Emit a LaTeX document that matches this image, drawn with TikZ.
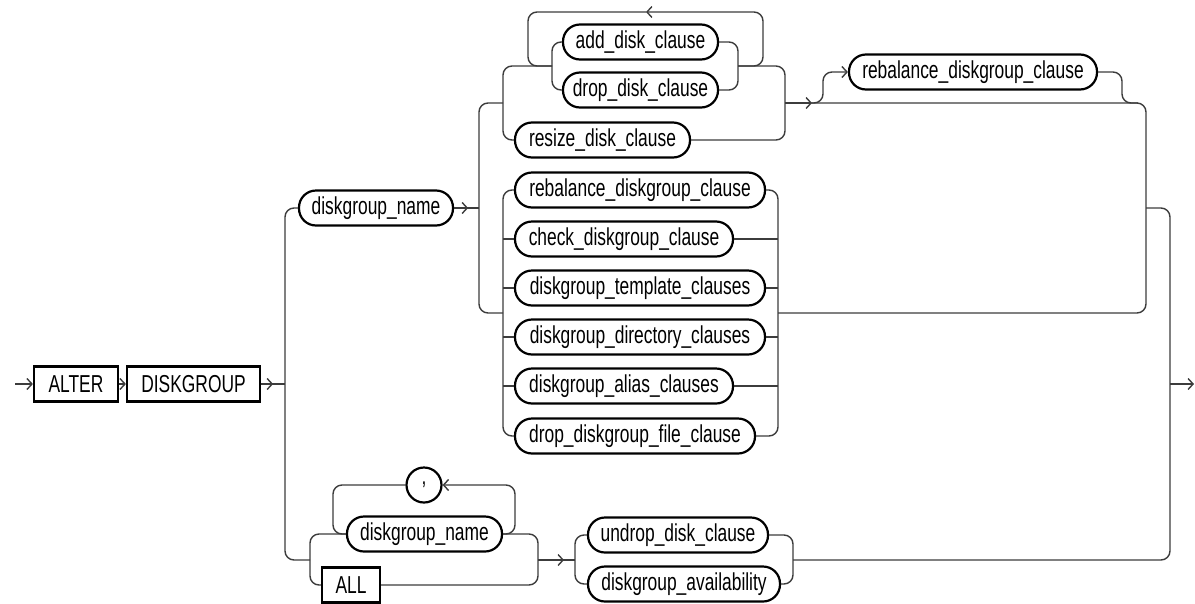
\documentclass[tikz,border=0pt]{standalone}
\usepackage{fontspec}
\setmainfont{Liberation Sans}[FakeStretch=0.71]
\usetikzlibrary{arrows.meta, positioning}
\definecolor{railgray}{RGB}{60,60,60}

\tikzset{
  ntbox/.style={draw, line width=2.2pt, rounded corners=17pt,
    minimum height=35pt, inner xsep=0pt, inner ysep=0pt},
  kwbox/.style={draw, line width=2.2pt, minimum height=35pt,
    inner xsep=0pt, inner ysep=0pt},
  rail/.style={draw=railgray, line width=1.4pt, rounded corners=9pt},
  tip/.style={draw=railgray, line width=1.4pt,
    -{Straight Barb[length=5pt,width=11pt]}}
}

\begin{document}
\begin{tikzpicture}[x=1pt, y=-1pt, font=\fontsize{24.5}{27}\selectfont]
\useasboundingbox (0,0) rectangle (1195,603);

% ---- boxes ----
\node[kwbox, minimum width=84pt]  (alter)  at (76,384)  {ALTER};
\node[kwbox, minimum width=133pt] (dgroup) at (193.5,384) {DISKGROUP};
\node[ntbox, minimum width=154pt] (dgname) at (376,208) {diskgroup\_name};

\node[ntbox, minimum width=155pt] (adddisk)  at (640.5,42) {add\_disk\_clause};
\node[ntbox, minimum width=155pt] (dropdisk) at (640.5,90) {drop\_disk\_clause};
\node[ntbox, minimum width=175pt] (resize)   at (602.5,140) {resize\_disk\_clause};
\node[ntbox, minimum width=248pt] (rebalopt) at (973,72) {rebalance\_diskgroup\_clause};

\node[ntbox, minimum width=250pt] (rebal)    at (640,190) {rebalance\_diskgroup\_clause};
\node[ntbox, minimum width=218pt] (check)    at (624,239) {check\_diskgroup\_clause};
\node[ntbox, minimum width=250pt] (templ)    at (640,288) {diskgroup\_template\_clauses};
\node[ntbox, minimum width=250pt] (direc)    at (640,337) {diskgroup\_directory\_clauses};
\node[ntbox, minimum width=218pt] (alias)    at (624,386) {diskgroup\_alias\_clauses};
\node[ntbox, minimum width=240pt] (dropfile) at (635,436) {drop\_diskgroup\_file\_clause};

\node[ntbox, circle, minimum size=35pt] (comma) at (424,485) {,};
\node[ntbox, minimum width=155pt] (dgname2) at (424.5,534) {diskgroup\_name};
\node[kwbox, minimum width=58pt]  (all)     at (351,585) {ALL};
\node[ntbox, minimum width=180pt] (undrop)  at (678,535) {undrop\_disk\_clause};
\node[ntbox, minimum width=192pt] (avail)   at (684,584) {diskgroup\_availability};

% ---- junctions ----
\coordinate (start)  at (15,384);
\coordinate (finish) at (1194,384);
\coordinate (jL)   at (285,384);
\coordinate (jA)   at (479,208);
\coordinate (jTop) at (503,103);
\coordinate (jMid) at (503,313);
\coordinate (jAD)  at (552,66);
\coordinate (jADr) at (738,66);
\coordinate (jTr)  at (785,103);
\coordinate (jMr)  at (778,313);
\coordinate (jR1)  at (1146,208);
\coordinate (jR2)  at (1170,384);
\coordinate (jB)   at (310,560);
\coordinate (jBr)  at (538,560);
\coordinate (jU)   at (575,560);
\coordinate (jUr)  at (793,560);
\coordinate (ltL)  at (528,12);
\coordinate (ltM)  at (646,12);
\coordinate (ltR)  at (763,12);
\coordinate (lpL)  at (333,485);
\coordinate (lpR)  at (515,485);
\coordinate (arT)  at (812,103);
\coordinate (opL)  at (823,72);
\coordinate (opR)  at (1122,103);

% ---- entry ----
\draw[tip] (start) -- (alter);
\draw[tip] (alter) -- (dgroup);
\draw[rail] (dgroup.east) -- (jL);
\draw[tip] (dgroup.east) -- ++(12,0);
\draw[rail] (dgname.west) -| (jL) |- (jB);

% ---- upper branch ----
\draw[rail] (dgname.east) -- (jA);
\draw[tip] (dgname.east) -- ++(14,0);
\draw[rail] (jTop) -| (jA) |- (jMid);
\draw[rail] (jAD) -| (jTop) |- (resize.west);
\draw[rail] (adddisk.west) -| (jAD) |- (dropdisk.west);
\draw[rail] (adddisk.east) -| (jADr) |- (dropdisk.east);
\draw[rail] (jADr) -| (jTr) |- (resize.east);
\draw[rail, -{Straight Barb[length=5pt,width=11pt]}] (jADr) -| (ltR) -- (ltM);
\draw[rail] (ltM) -- (ltL) |- (jAD);

% optional rebalance
\draw[tip] (jTr) -- (arT);
\draw[rail, -{Straight Barb[length=5pt,width=11pt]}] (arT) -| (opL) -- (rebalopt.west);
\draw[rail] (rebalopt.east) -| (opR) -- ++(16,0);

% main column
\draw[rail] (rebal.west) -| (jMid) |- (dropfile.west);
\draw[rail] (rebal.east) -| (jMr) |- (dropfile.east);
\foreach \n in {check, templ, direc, alias}{
  \draw[rail] (\n.west -| jMid) -- (\n.west);
  \draw[rail] (\n.east) -- (\n.east -| jMr);
}

% right side
\draw[rail] (jTr) -| (jR1) |- (jMr);
\draw[rail] (jR1) -| (jR2) |- (jUr);
\draw[tip] (jR2) -- (finish);

% ---- lower branch ----
\draw[rail] (dgname2.west) -| (jB) |- (all.west);
\draw[rail] (dgname2.east) -| (jBr) |- (all.east);
\draw[rail, -{Straight Barb[length=5pt,width=11pt]}] (dgname2.east) -| (lpR) -- (comma.east);
\draw[rail] (comma.west) -- (lpL) |- (dgname2.west);
\draw[rail] (jBr) -- (jU);
\draw[tip] (jBr) -- ++(26,0);
\draw[rail] (undrop.west) -| (jU) |- (avail.west);
\draw[rail] (undrop.east) -| (jUr) |- (avail.east);

\end{tikzpicture}
\end{document}
